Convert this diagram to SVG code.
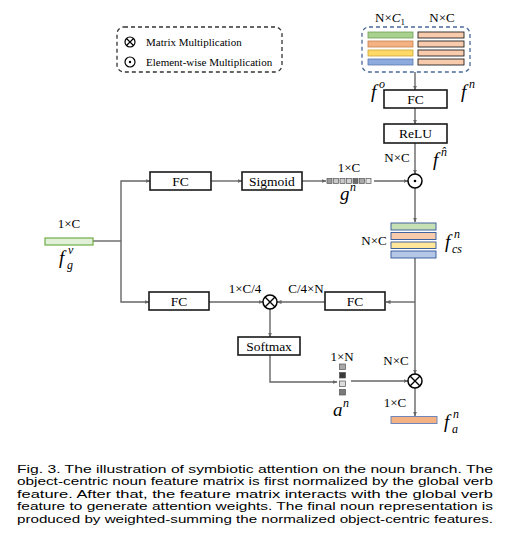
<svg xmlns="http://www.w3.org/2000/svg" width="511" height="559" viewBox="0 0 511 559">
<defs>
<marker id="ah" viewBox="0 0 10 10" refX="9" refY="5" markerWidth="5" markerHeight="5" orient="auto" markerUnits="userSpaceOnUse">
<path d="M0,1 L10,5 L0,9 Z" fill="#666"/>
</marker>
<style>
.box{fill:#fff;stroke:#1a1a1a;stroke-width:1.6}
.bt{font-family:"Liberation Serif","Times New Roman",serif;font-size:13.5px;fill:#000;text-anchor:middle}
.dim{font-family:"Liberation Serif","Times New Roman",serif;font-size:13px;fill:#000;text-anchor:middle}
.mi{font-family:"Liberation Serif","Times New Roman",serif;font-style:italic;fill:#000}
.big{font-size:19px}
.sm{font-size:12px}
.conn{stroke:#666;stroke-width:1.4;fill:none}
.arr{marker-end:url(#ah)}
.op{fill:#fff;stroke:#000;stroke-width:1.5}
.cap{font-family:"Liberation Sans",Arial,sans-serif;font-size:11.8px;fill:#000}
.leg{font-family:"Liberation Serif","Times New Roman",serif;font-size:11px;fill:#000}
.sq{stroke:#555;stroke-width:0.7}
</style>
</defs>
<rect width="511" height="559" fill="#fff"/>

<g id="legend">
<rect x="117" y="27" width="165" height="45" rx="7" fill="none" stroke="#333" stroke-width="1.3" stroke-dasharray="4,3"/>
<circle cx="130" cy="42" r="5" fill="none" stroke="#000" stroke-width="1.2"/>
<path d="M126.5,38.5 L133.5,45.5 M133.5,38.5 L126.5,45.5" stroke="#000" stroke-width="1.2"/>
<circle cx="130" cy="62" r="5" fill="none" stroke="#000" stroke-width="1.2"/>
<circle cx="130" cy="62" r="1.2" fill="#000"/>
<text class="leg" x="146" y="45.5">Matrix Multiplication</text>
<text class="leg" x="146" y="65.5">Element-wise Multiplication</text>
</g>

<g id="connectors">
<line class="conn arr" x1="415" y1="72" x2="415" y2="90"/>
<line class="conn arr" x1="415" y1="108" x2="415" y2="124"/>
<line class="conn arr" x1="415" y1="143" x2="415" y2="174"/>
<line class="conn" x1="93" y1="241" x2="121" y2="241"/>
<polyline class="conn arr" points="121,241 121,181 150,181"/>
<polyline class="conn arr" points="121,241 121,302 149,302"/>
<line class="conn arr" x1="211" y1="181" x2="242" y2="181"/>
<line class="conn arr" x1="302" y1="181" x2="326" y2="181"/>
<line class="conn arr" x1="374" y1="181" x2="408" y2="181"/>
<line class="conn arr" x1="415" y1="188" x2="415" y2="222"/>
<line class="conn arr" x1="415" y1="258" x2="415" y2="374"/>
<line class="conn arr" x1="415" y1="302" x2="386" y2="302"/>
<line class="conn arr" x1="325" y1="302" x2="277" y2="302"/>
<line class="conn arr" x1="209" y1="302" x2="263" y2="302"/>
<line class="conn arr" x1="270" y1="309" x2="270" y2="337"/>
<polyline class="conn arr" points="270,355 270,382 337,382"/>
<line class="conn arr" x1="351" y1="381" x2="408" y2="381"/>
<line class="conn arr" x1="415" y1="388" x2="415" y2="416"/>
</g>

<g id="input-block">
<rect x="362" y="27" width="108" height="45" rx="7" fill="none" stroke="#4a6a9a" stroke-width="1.3" stroke-dasharray="4,3"/>
<rect x="368" y="32" width="45" height="6" fill="#a9d18e" stroke="#6e9f57" stroke-width="0.8"/>
<rect x="368" y="41" width="45" height="6" fill="#f4b183" stroke="#c57f4d" stroke-width="0.8"/>
<rect x="368" y="50" width="45" height="6" fill="#ffd966" stroke="#c9a635" stroke-width="0.8"/>
<rect x="368" y="59" width="45" height="6" fill="#8faadc" stroke="#5878b0" stroke-width="0.8"/>
<rect x="418" y="32" width="46" height="6" fill="#f8cbad" stroke="#222" stroke-width="0.9"/>
<rect x="418" y="41" width="46" height="6" fill="#f8cbad" stroke="#222" stroke-width="0.9"/>
<rect x="418" y="50" width="46" height="6" fill="#f8cbad" stroke="#222" stroke-width="0.9"/>
<rect x="418" y="59" width="46" height="6" fill="#f8cbad" stroke="#222" stroke-width="0.9"/>
<text class="dim" x="390" y="22">N×<tspan font-style="italic">C</tspan><tspan font-size="9" dy="3">1</tspan></text>
<text class="dim" x="442" y="22">N×C</text>
<text class="mi big" x="371" y="98">f</text>
<text class="mi sm" x="379" y="88">o</text>
<text class="mi big" x="461" y="98">f</text>
<text class="mi sm" x="469" y="88">n</text>
</g>

<g id="fc-top-right">
<rect class="box" x="384" y="90" width="63" height="18"/>
<text class="bt" x="415.5" y="103.5">FC</text>
</g>

<g id="relu">
<rect class="box" x="384" y="124" width="63" height="19"/>
<text class="bt" x="415.5" y="138">ReLU</text>
<text class="dim" x="397" y="162">N×C</text>
<text class="mi big" x="433" y="166">f</text>
<text class="mi sm" x="441" y="156">n̂</text>
</g>

<g id="elem-mult">
<circle class="op" cx="415" cy="181" r="7"/>
<circle cx="415" cy="181" r="1.3" fill="#000"/>
</g>

<g id="fgv">
<rect x="45" y="238" width="48" height="7" fill="#e2efd9" stroke="#70ad47" stroke-width="1.2"/>
<text class="dim" x="69" y="228">1×C</text>
<text class="mi big" x="59" y="264">f</text>
<text class="mi sm" x="68" y="254">v</text>
<text class="mi sm" x="67" y="269">g</text>
</g>

<g id="fc-top-left">
<rect class="box" x="150" y="172" width="61" height="18"/>
<text class="bt" x="180.5" y="185.5">FC</text>
</g>

<g id="sigmoid">
<rect class="box" x="242" y="172" width="60" height="18"/>
<text class="bt" x="272" y="185.5">Sigmoid</text>
</g>

<g id="gn">
<rect class="sq" x="327" y="178.5" width="5" height="5" fill="#9a9a9a"/>
<rect class="sq" x="333.5" y="178.5" width="5" height="5" fill="#c8c8c8"/>
<rect class="sq" x="340" y="178.5" width="5" height="5" fill="#c8c8c8"/>
<rect class="sq" x="346.5" y="178.5" width="5" height="5" fill="#d0d0d0"/>
<rect class="sq" x="353" y="178.5" width="5" height="5" fill="#6e6e6e"/>
<rect class="sq" x="359.5" y="178.5" width="5" height="5" fill="#a8a8a8"/>
<rect class="sq" x="366" y="178.5" width="5" height="5" fill="#e4e4e4"/>
<text class="dim" x="349" y="172">1×C</text>
<text class="mi big" x="340" y="200">g</text>
<text class="mi sm" x="350" y="191">n</text>
</g>

<g id="fcs">
<rect x="391" y="223" width="45" height="7" fill="#c5e0b4" stroke="#2f5597" stroke-width="0.9"/>
<rect x="391" y="232.5" width="45" height="7" fill="#f8cbad" stroke="#2f5597" stroke-width="0.9"/>
<rect x="391" y="242" width="45" height="6.5" fill="#ffe699" stroke="#2f5597" stroke-width="0.9"/>
<rect x="391" y="251" width="45" height="7" fill="#b4c7e7" stroke="#2f5597" stroke-width="0.9"/>
<text class="dim" x="374" y="245">N×C</text>
<text class="mi big" x="445" y="248">f</text>
<text class="mi sm" x="454" y="238">n</text>
<text class="mi sm" x="452" y="253">cs</text>
</g>

<g id="fc-bottom-left">
<rect class="box" x="149" y="292" width="60" height="18"/>
<text class="bt" x="179" y="305.5">FC</text>
</g>

<g id="fc-bottom-right">
<rect class="box" x="325" y="292" width="60" height="18"/>
<text class="bt" x="355" y="305.5">FC</text>
</g>

<g id="matmul-1">
<circle class="op" cx="270" cy="302" r="7"/>
<path d="M265,297 L275,307 M275,297 L265,307" stroke="#000" stroke-width="1.4"/>
<text class="dim" x="245" y="293">1×C/4</text>
<text class="dim" x="306" y="293">C/4×N</text>
</g>

<g id="softmax">
<rect class="box" x="238" y="337" width="62" height="18"/>
<text class="bt" x="269" y="350.5">Softmax</text>
</g>

<g id="an">
<rect class="sq" x="339.5" y="364" width="6" height="5.5" fill="#a8a8a8"/>
<rect class="sq" x="339.5" y="372.5" width="6" height="5.5" fill="#3a3a3a"/>
<rect class="sq" x="339.5" y="381" width="6" height="5.5" fill="#dcdcdc"/>
<rect class="sq" x="339.5" y="389.5" width="6" height="5.5" fill="#7a7a7a"/>
<text class="dim" x="342" y="361">1×N</text>
<text class="mi big" x="333" y="416">a</text>
<text class="mi sm" x="343" y="407">n</text>
</g>

<g id="matmul-2">
<circle class="op" cx="415" cy="381" r="7"/>
<path d="M410,376 L420,386 M420,376 L410,386" stroke="#000" stroke-width="1.4"/>
<text class="dim" x="396" y="365">N×C</text>
<text class="dim" x="395" y="407">1×C</text>
</g>

<g id="fa">
<rect x="391" y="416.5" width="46" height="7" fill="#f4b183" stroke="#6f87b8" stroke-width="1"/>
<text class="mi big" x="444" y="428">f</text>
<text class="mi sm" x="453" y="418">n</text>
<text class="mi sm" x="452" y="433">a</text>
</g>

<g id="caption">
<text class="cap" x="17" y="472.5" textLength="476" lengthAdjust="spacingAndGlyphs">Fig. 3. The illustration of symbiotic attention on the noun branch. The</text>
<text class="cap" x="17" y="485" textLength="476" lengthAdjust="spacingAndGlyphs">object-centric noun feature matrix is first normalized by the global verb</text>
<text class="cap" x="17" y="497.5" textLength="476" lengthAdjust="spacingAndGlyphs">feature. After that, the feature matrix interacts with the global verb</text>
<text class="cap" x="17" y="510" textLength="476" lengthAdjust="spacingAndGlyphs">feature to generate attention weights. The final noun representation is</text>
<text class="cap" x="17" y="522.5" textLength="476" lengthAdjust="spacingAndGlyphs">produced by weighted-summing the normalized object-centric features.</text>
</g>
</svg>
